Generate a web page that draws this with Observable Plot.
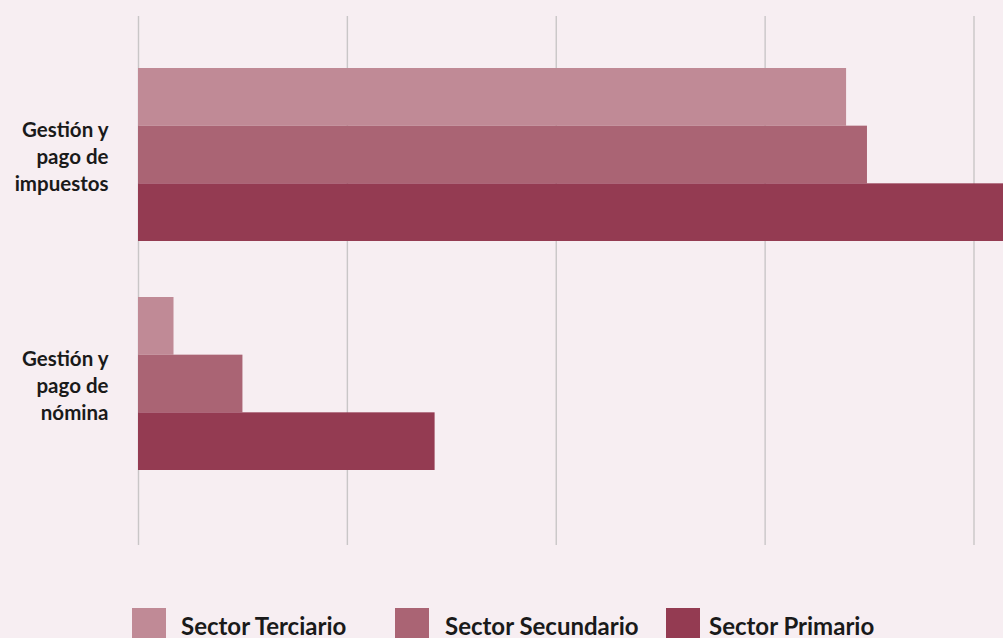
<!DOCTYPE html>
<html>
<head>
<meta charset="utf-8">
<script src="https://cdn.jsdelivr.net/npm/d3@7"></script>
<script src="https://cdn.jsdelivr.net/npm/@observablehq/plot@0.6"></script>
<style>
  html, body { margin: 0; padding: 0; background: #f7eef2; overflow: hidden; }
  #chart { position: relative; width: 1003px; height: 638px; }
  #legend { position: absolute; top: 608px; left: 0; width: 1003px; height: 40px; font-family: Lato, sans-serif; font-weight: 700; font-size: 24px; color: #1a1a1a; }
  .sw { position: absolute; top: 0; width: 34px; height: 32px; }
  .lbl { position: absolute; top: 6px; line-height: 1; white-space: nowrap; }
</style>
</head>
<body>
<div id="chart"></div>
<script>
const categories = ["Gestión y\npago de\nimpuestos", "Gestión y\npago de\nnómina"];
const sectors = ["Sector Terciario", "Sector Secundario", "Sector Primario"];
const colors = ["#c08a96", "#aa6474", "#943b52"];
const terciario = [33.9, 1.7];
const secundario = [34.9, 5.0];
const primario = [45.0, 14.2];
const xTicks = [0, 10, 20, 30, 40];

const seriesValues = [terciario, secundario, primario];
const rows = sectors.flatMap((s, i) => categories.map((c, j) => ({category: c, sector: s, value: seriesValues[i][j]})));

const H = 565;
const bandwidth = 173;
const part = bandwidth / 3;

const marks = [
  Plot.ruleX(xTicks, {stroke: "#c9c6c7", strokeWidth: 1.4}),
  ...sectors.map((s, i) => Plot.barX(rows.filter(d => d.sector === s), {
    x: "value", y: "category", fill: colors[i],
    insetTop: part * i, insetBottom: part * (2 - i)
  })),
  Plot.text(categories, {
    y: d => d, text: d => d, frameAnchor: "left", textAnchor: "end", dx: -30,
    fontSize: 20.5, fontWeight: 700, fill: "#1a1a1a", lineHeight: 1.32
  })
];

const plot = Plot.plot({
  width: 1003,
  height: H,
  marginLeft: 138,
  marginRight: 29.5,
  marginTop: 16,
  marginBottom: H - 545,
  style: {background: "transparent", fontFamily: "Lato, sans-serif"},
  x: {domain: [0, 40], axis: null},
  y: {domain: categories, axis: null, paddingInner: 0.2445, paddingOuter: 0.277, align: 0.409},
  marks
});
const chart = document.getElementById("chart");
chart.appendChild(plot);

const legend = document.createElement("div");
legend.id = "legend";
const swLefts = [132, 395, 666];
const txtLefts = [181, 445, 709];
sectors.forEach((s, i) => {
  const sw = document.createElement("div");
  sw.className = "sw";
  sw.style.left = swLefts[i] + "px";
  sw.style.background = colors[i];
  const lb = document.createElement("span");
  lb.className = "lbl";
  lb.style.left = txtLefts[i] + "px";
  lb.textContent = s;
  legend.appendChild(sw);
  legend.appendChild(lb);
});
chart.appendChild(legend);
</script>
</body>
</html>
